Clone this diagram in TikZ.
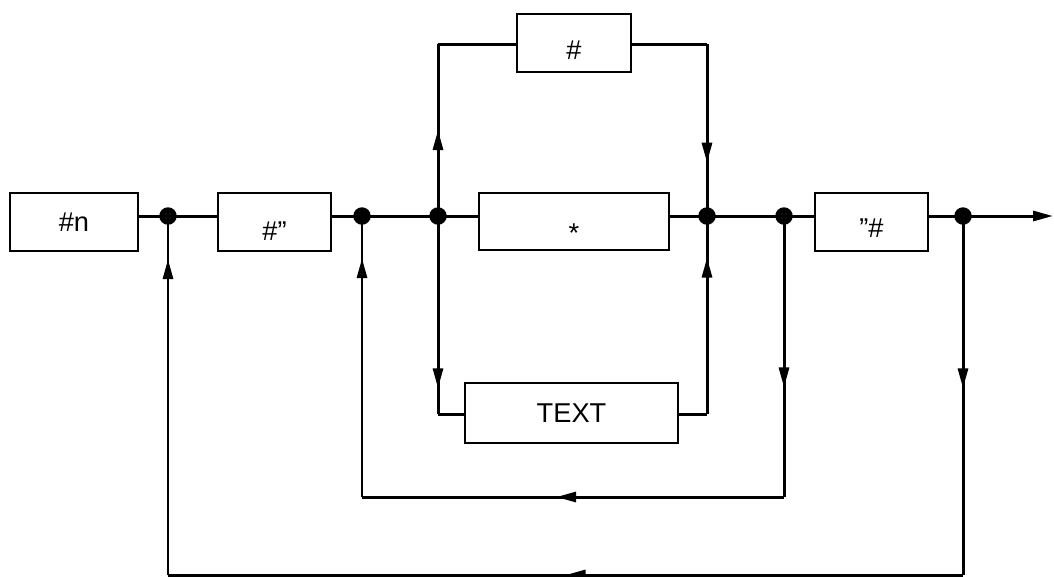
\documentclass[tikz,border=0pt]{standalone}
\usepackage{fontspec}
\setmainfont{Liberation Sans}
\usepackage{tikz}
\usetikzlibrary{arrows.meta,positioning,decorations.markings}

\begin{document}
\begin{tikzpicture}[
    x=0.02cm, y=-0.02cm,
    line width=1.7pt,
    box/.style={draw, line width=1.5pt, inner sep=0pt, minimum height=1.16cm, text height=0.38cm, text depth=0pt, font=\fontsize{15.5}{18}\selectfont},
    dot/.style={circle, fill, inner sep=0pt, minimum size=0.35cm},
    tip/.style={-{Triangle[length=4mm,width=2mm]}},
    midarrow/.style={postaction={decorate}, decoration={markings, mark=at position #1 with {\arrow{Triangle[length=4mm,width=2mm]}}}}
]
\useasboundingbox (0,0) rectangle (1054,576);

% boxes
\node[box, minimum width=2.56cm] (hashn) at (74,222) {\#n};
\node[box, minimum width=2.26cm] (hashq) at (274.5,222) {\raisebox{-0.17cm}{\#”}};
\node[box, minimum width=3.8cm, minimum height=1.14cm] (star) at (574,221.5) {\raisebox{-0.22cm}{*}};
\node[box, minimum width=2.26cm] (qhash) at (871.5,222) {\raisebox{-0.11cm}{”\#}};
\node[box, minimum width=2.28cm] (hash) at (574,43) {\raisebox{-0.14cm}{\#}};
\node[box, minimum width=4.26cm, minimum height=1.2cm] (text) at (571.5,413) {TEXT};

% junctions
\node[dot] (d1) at (168,216) {};
\node[dot] (d2) at (362,216) {};
\node[dot] (d3) at (438,216) {};
\node[dot] (d4) at (707,216) {};
\node[dot] (d5) at (784,216) {};
\node[dot] (d6) at (963,216) {};

% corners
\coordinate (tl) at (438,44);
\coordinate (tr) at (707,44);
\coordinate (bl) at (438,414);
\coordinate (br) at (707,414);
\coordinate (il) at (362,497);
\coordinate (ir) at (784,497);
\coordinate (ol) at (168,575);
\coordinate (or) at (963,575);
\coordinate (out) at (1053,216);

% main line
\draw (hashn.east |- d1) -- (d1.center) -- (hashq.west |- d1);
\draw (hashq.east |- d2) -- (d2.center) -- (d3.center) -- (star.west |- d3);
\draw (star.east |- d4) -- (d4.center) -- (d5.center) -- (qhash.west |- d5);
\draw[tip] (qhash.east |- d6) -- (d6.center) -- (out);

% upper branch
\draw[midarrow=0.5] (d3.center) -- (tl);
\draw (tl) -- (hash.west |- tl);
\draw (hash.east |- tr) -- (tr);
\draw[midarrow=0.69] (tr) -- (d4.center);

% lower branch
\draw[midarrow=0.87] (d3.center) -- (bl);
\draw (bl) -- (text.west |- bl);
\draw (text.east |- br) -- (br);
\draw[midarrow=0.79] (br) -- (d4.center);

% inner loop
\draw[midarrow=0.61] (d5.center) -- (ir);
\draw[midarrow=0.54] (ir) -- (il);
\draw[midarrow=0.85] (il) -- (d2.center);

% outer loop
\draw[midarrow=0.48] (d6.center) -- (or);
\draw[midarrow=0.5] (or) -- (ol);
\draw[midarrow=0.88] (ol) -- (d1.center);
\end{tikzpicture}
\end{document}
